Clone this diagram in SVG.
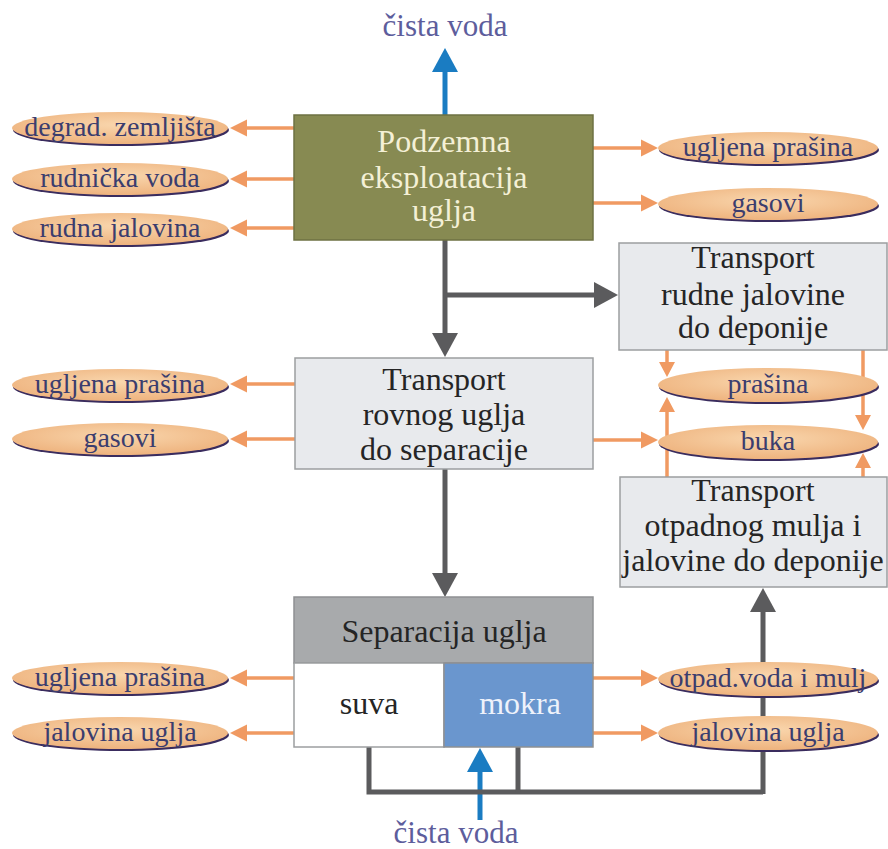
<svg xmlns="http://www.w3.org/2000/svg" width="888" height="849" viewBox="0 0 888 849">
<defs>
<style>
.box{fill:#e8eaed;stroke:#9c9ea0;stroke-width:1.5}
.bt{font-family:"Liberation Serif","Times New Roman",serif;font-size:32px;fill:#252525;text-anchor:middle}
.et{font-family:"Liberation Serif","Times New Roman",serif;font-size:28px;fill:#3b3d6e;text-anchor:middle}
.el{fill:url(#eg)}
.sh{fill:#3a2c5e}
.oa{fill:none;stroke:#f09a62;stroke-width:3.5;marker-end:url(#mo)}
.ov{fill:none;stroke:#f09a62;stroke-width:3.5;marker-end:url(#mo2)}
.ga{fill:none;stroke:#5b5b5d;stroke-width:5;marker-end:url(#mg)}
.gl{fill:none;stroke:#5b5b5d;stroke-width:5}
.ba{fill:none;stroke:#1a7cc2;stroke-width:5;marker-end:url(#mb)}
.cv{font-family:"Liberation Serif","Times New Roman",serif;font-size:31px;fill:#5d5d9c;text-anchor:middle}
</style>
<radialGradient id="eg" cx="0.5" cy="0.4" r="0.6">
<stop offset="0" stop-color="#f9d6ad"/>
<stop offset="1" stop-color="#eeb37e"/>
</radialGradient>
<marker id="mo" markerUnits="userSpaceOnUse" markerWidth="18" markerHeight="18" refX="0" refY="8.5" orient="auto" overflow="visible">
<path d="M0,0 L17,8.5 L0,17 z" fill="#f09a62"/>
</marker>
<marker id="mo2" markerUnits="userSpaceOnUse" markerWidth="18" markerHeight="18" refX="0" refY="8" orient="auto" overflow="visible">
<path d="M0,0 L15,8 L0,16 z" fill="#f09a62"/>
</marker>
<marker id="mg" markerUnits="userSpaceOnUse" markerWidth="26" markerHeight="26" refX="0" refY="13" orient="auto" overflow="visible">
<path d="M0,0 L24,13 L0,26 z" fill="#5b5b5d"/>
</marker>
<marker id="mb" markerUnits="userSpaceOnUse" markerWidth="26" markerHeight="26" refX="0" refY="13" orient="auto" overflow="visible">
<path d="M0,0 L24,13 L0,26 z" fill="#1a7cc2"/>
</marker>
</defs>
<rect width="888" height="849" fill="#ffffff"/>

<g id="connectors">
<path class="ba" d="M445,115 V72"/>
<path class="ba" d="M480,820 V772"/>
<path class="oa" d="M294,128 H247"/>
<path class="oa" d="M294,179 H247"/>
<path class="oa" d="M294,228 H247"/>
<path class="oa" d="M593,148 H641"/>
<path class="oa" d="M593,203 H641"/>
<path class="ga" d="M445,240 V333"/>
<path class="ga" d="M445,295 H594"/>
<path class="oa" d="M295,384 H247"/>
<path class="oa" d="M295,439 H247"/>
<path class="oa" d="M593,440 H641"/>
<path class="ov" d="M667,350 V362"/>
<path class="ov" d="M667,477 V412"/>
<path class="ov" d="M863,350 V415"/>
<path class="ov" d="M863,477 V468"/>
<path class="ga" d="M445,469 V573"/>
<path class="oa" d="M294,678 H247"/>
<path class="oa" d="M294,733 H247"/>
<path class="oa" d="M593,678 H641"/>
<path class="oa" d="M593,733 H641"/>
<path class="gl" d="M369,747 V792 H763"/>
<path class="gl" d="M518,747 V792"/>
<path class="ga" d="M763,794 V612"/>
</g>

<g id="cista-voda-top"><text class="cv" x="445" y="36">čista voda</text></g>
<g id="cista-voda-bottom"><text class="cv" x="456" y="843">čista voda</text></g>

<g id="podzemna">
<rect x="294" y="115" width="299" height="125" fill="#878a52" stroke="#6e7143" stroke-width="1.5"/>
<text class="bt" x="444" y="152" style="fill:#f4f0d6">Podzemna</text>
<text class="bt" x="444" y="188" style="fill:#f4f0d6">eksploatacija</text>
<text class="bt" x="444" y="221" style="fill:#f4f0d6">uglja</text>
</g>

<g id="e-degrad"><ellipse class="sh" cx="121" cy="130" rx="108" ry="16"/><ellipse class="el" cx="120" cy="128" rx="108" ry="16"/><text class="et" x="120" y="136">degrad. zemljišta</text></g>
<g id="e-rudnicka"><ellipse class="sh" cx="121" cy="181" rx="108" ry="16"/><ellipse class="el" cx="120" cy="179" rx="108" ry="16"/><text class="et" x="120" y="187">rudnička voda</text></g>
<g id="e-rudna"><ellipse class="sh" cx="121" cy="231" rx="108" ry="16"/><ellipse class="el" cx="120" cy="229" rx="108" ry="16"/><text class="et" x="120" y="237">rudna jalovina</text></g>

<g id="e-up1"><ellipse class="sh" cx="769" cy="150" rx="110" ry="16"/><ellipse class="el" cx="768" cy="148" rx="110" ry="16"/><text class="et" x="768" y="156">ugljena prašina</text></g>
<g id="e-gas1"><ellipse class="sh" cx="769" cy="206" rx="110" ry="16"/><ellipse class="el" cx="768" cy="204" rx="110" ry="16"/><text class="et" x="768" y="212">gasovi</text></g>

<g id="transport-rudne">
<rect class="box" x="619" y="243" width="268" height="107"/>
<text class="bt" x="753" y="268">Transport</text>
<text class="bt" x="753" y="305">rudne jalovine</text>
<text class="bt" x="753" y="338">do deponije</text>
</g>

<g id="transport-rovnog">
<rect class="box" x="295" y="358" width="298" height="111"/>
<text class="bt" x="444" y="390">Transport</text>
<text class="bt" x="444" y="425">rovnog uglja</text>
<text class="bt" x="444" y="460">do separacije</text>
</g>

<g id="e-up2"><ellipse class="sh" cx="121" cy="387" rx="108" ry="16"/><ellipse class="el" cx="120" cy="385" rx="108" ry="16"/><text class="et" x="120" y="393">ugljena prašina</text></g>
<g id="e-gas2"><ellipse class="sh" cx="121" cy="441" rx="108" ry="16"/><ellipse class="el" cx="120" cy="439" rx="108" ry="16"/><text class="et" x="120" y="447">gasovi</text></g>

<g id="e-prasina"><ellipse class="sh" cx="769" cy="387" rx="110" ry="17"/><ellipse class="el" cx="768" cy="385" rx="110" ry="17"/><text class="et" x="768" y="393">prašina</text></g>
<g id="e-buka"><ellipse class="sh" cx="769" cy="444" rx="110" ry="17"/><ellipse class="el" cx="768" cy="442" rx="110" ry="17"/><text class="et" x="768" y="450">buka</text></g>

<g id="transport-otpadnog">
<rect class="box" x="620" y="477" width="267" height="110"/>
<text class="bt" x="753" y="501">Transport</text>
<text class="bt" x="753" y="536">otpadnog mulja i</text>
<text class="bt" x="753" y="571">jalovine do deponije</text>
</g>

<g id="separacija">
<rect x="294" y="597" width="299" height="66" fill="#a8aaac" stroke="#8e9092" stroke-width="1.5"/>
<rect x="294" y="663" width="150" height="84" fill="#ffffff" stroke="#9c9ea0" stroke-width="1.5"/>
<rect x="444" y="663" width="149" height="84" fill="#6a96ce" stroke="#8e9092" stroke-width="1.5"/>
<text class="bt" x="444" y="642">Separacija uglja</text>
<text class="bt" x="369" y="714">suva</text>
<text class="bt" x="520" y="714" style="fill:#eef2fb">mokra</text>
</g>

<g id="e-up3"><ellipse class="sh" cx="121" cy="680" rx="108" ry="16"/><ellipse class="el" cx="120" cy="678" rx="108" ry="16"/><text class="et" x="120" y="686">ugljena prašina</text></g>
<g id="e-jal-l"><ellipse class="sh" cx="121" cy="735" rx="108" ry="16"/><ellipse class="el" cx="120" cy="733" rx="108" ry="16"/><text class="et" x="120" y="741">jalovina uglja</text></g>
<g id="e-otpad"><ellipse class="sh" cx="769" cy="681" rx="110" ry="17"/><ellipse class="el" cx="768" cy="679" rx="110" ry="17"/><text class="et" x="768" y="687">otpad.voda i mulj</text></g>
<g id="e-jal-r"><ellipse class="sh" cx="769" cy="735" rx="110" ry="17"/><ellipse class="el" cx="768" cy="733" rx="110" ry="17"/><text class="et" x="768" y="741">jalovina uglja</text></g>
</svg>
